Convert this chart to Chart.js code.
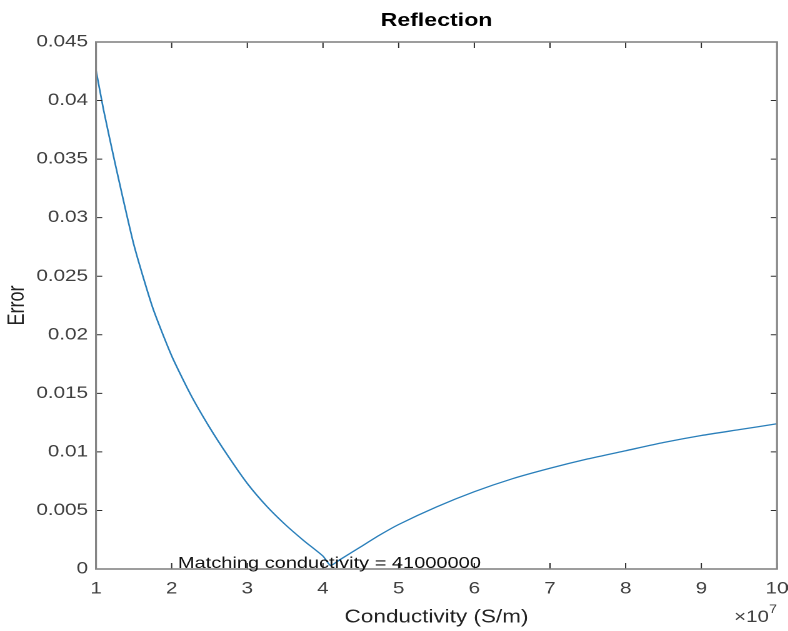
<!DOCTYPE html>
<html>
<head>
<meta charset="utf-8">
<script src="https://cdn.jsdelivr.net/npm/chart.js@4.4.0/dist/chart.umd.min.js"></script>
<style>
  html, body { margin: 0; padding: 0; background: #fff; overflow: hidden; }
  /* the original figure is stretched sideways, so the chart is drawn narrower and scaled */
  #wrap { width: 630px; height: 631px; transform: scaleX(1.25); transform-origin: 0 0; }
</style>
</head>
<body>
<div id="wrap"><canvas id="chartf1"></canvas></div>
<script>
// conductivity in S/m, error
let conductivity = [1.0e7, 1.1e7, 1.25e7, 1.5e7, 1.75e7, 2.0e7, 2.25e7, 2.5e7, 2.75e7, 3.0e7,
    3.25e7, 3.5e7, 3.75e7, 4.0e7, 4.1e7, 4.2e7, 4.5e7, 4.75e7, 5.0e7, 5.5e7,
    6.0e7, 6.5e7, 7.0e7, 7.5e7, 8.0e7, 8.5e7, 9.0e7, 9.5e7, 10.0e7];
let error_values = [0.0426, 0.0392, 0.0347, 0.0277, 0.0223, 0.0182, 0.0149, 0.0121, 0.0096, 0.0073,
    0.0054, 0.0038, 0.0024, 0.0011, 0.0003, 0.0007, 0.0019, 0.0029, 0.0038, 0.0053,
    0.0066, 0.0077, 0.0086, 0.0094, 0.0101, 0.0108, 0.0114, 0.0119, 0.0124];

let x_ticks = [1e7, 2e7, 3e7, 4e7, 5e7, 6e7, 7e7, 8e7, 9e7, 10e7];
let x_tick_labels = ['1', '2', '3', '4', '5', '6', '7', '8', '9', '10'];
let y_ticks = [0, 0.005, 0.01, 0.015, 0.02, 0.025, 0.03, 0.035, 0.04, 0.045];
let y_tick_labels = ['0', '0.005', '0.01', '0.015', '0.02', '0.025', '0.03', '0.035', '0.04', '0.045'];

let matching_conductivity = 41000000;

const font_family = "'Liberation Sans', Arial, Helvetica, sans-serif";
const tick_color = '#404040';

//Box, inward ticks, title and text in the MATLAB look
const matlab_axes = {
    id: 'matlab_axes',
    afterDatasetsDraw(chart) {
        const ctx = chart.ctx;
        const area = chart.chartArea;
        const x_scale = chart.scales.x;
        const y_scale = chart.scales.y;
        ctx.save();

        ctx.strokeStyle = '#2e2e2e';
        ctx.lineWidth = 1;
        ctx.beginPath();
        x_ticks.forEach(v => {
            let px = x_scale.getPixelForValue(v);
            ctx.moveTo(px, area.bottom);
            ctx.lineTo(px, area.bottom - 6);
            ctx.moveTo(px, area.top);
            ctx.lineTo(px, area.top + 6);
        });
        y_ticks.forEach(v => {
            let py = y_scale.getPixelForValue(v);
            ctx.moveTo(area.left, py);
            ctx.lineTo(area.left + 5, py);
            ctx.moveTo(area.right, py);
            ctx.lineTo(area.right - 5, py);
        });
        ctx.stroke();

        ctx.strokeStyle = '#858585';
        ctx.lineWidth = 1.6;
        ctx.strokeRect(area.left, area.top, area.right - area.left, area.bottom - area.top);

        ctx.fillStyle = '#000';
        ctx.font = 'bold 18.5px ' + font_family;
        ctx.textAlign = 'center';
        ctx.textBaseline = 'middle';
        ctx.fillText('Reflection', (area.left + area.right) / 2, 21);

        ctx.fillStyle = '#111';
        ctx.font = '16px ' + font_family;
        ctx.textAlign = 'left';
        ctx.textBaseline = 'alphabetic';
        ctx.fillText('Matching conductivity = ' + matching_conductivity,
            x_scale.getPixelForValue(2e7) + 5, y_scale.getPixelForValue(0) - 1);

        // x10^7 multiplier under the right end of the x axis
        ctx.fillStyle = tick_color;
        ctx.textAlign = 'right';
        ctx.font = '11.5px ' + font_family;
        let exp_w = ctx.measureText('7').width;
        ctx.fillText('7', area.right, 613);
        ctx.font = '16.5px ' + font_family;
        ctx.fillText('\u00d710', area.right - exp_w, 622);

        ctx.restore();
    }
};

let chart = new Chart(document.getElementById('chartf1'), {
    type: 'line',
    data: {
        datasets: [{
            data: conductivity.map((c, i) => ({ x: c, y: error_values[i] })),
            borderColor: '#2a7fba',
            borderWidth: 1.3,
            pointRadius: 0,
            tension: 0.2,
            fill: false
        }]
    },
    options: {
        responsive: true,
        maintainAspectRatio: false,
        animation: false,
        devicePixelRatio: 2,
        layout: { padding: { top: 42, right: 8.4, bottom: 0, left: 0 } },
        plugins: {
            legend: { display: false },
            title: { display: false },
            tooltip: { enabled: false }
        },
        scales: {
            x: {
                type: 'linear',
                min: 1e7,
                max: 10e7,
                afterBuildTicks: s => { s.ticks = x_ticks.map(v => ({ value: v })); },
                afterFit: s => {
                    s.height = 62;
                    // label padding should not eat the right margin
                    s.paddingLeft = 0;
                    s.paddingRight = 0;
                },
                grid: { display: false, drawTicks: false },
                border: { display: false },
                ticks: {
                    padding: 10,
                    color: tick_color,
                    font: { family: font_family, size: 16.5 },
                    maxRotation: 0,
                    callback: (v, i) => x_tick_labels[i]
                },
                title: {
                    display: true,
                    text: 'Conductivity (S/m)',
                    color: '#222',
                    font: { family: font_family, size: 18 },
                    padding: { top: 0, bottom: 2.6 }
                }
            },
            y: {
                type: 'linear',
                min: 0,
                max: 0.045,
                afterBuildTicks: s => { s.ticks = y_ticks.map(v => ({ value: v })); },
                afterFit: s => { s.width = 76.8; },
                grid: { display: false, drawTicks: false },
                border: { display: false },
                ticks: {
                    padding: 6.4,
                    color: tick_color,
                    font: { family: font_family, size: 16.5 },
                    callback: (v, i) => y_tick_labels[i]
                },
                title: {
                    display: true,
                    text: 'Error',
                    color: '#222',
                    font: { family: font_family, size: 18 },
                    padding: { top: 3.2, bottom: 0 }
                }
            }
        }
    },
    plugins: [matlab_axes]
});
</script>
</body>
</html>
